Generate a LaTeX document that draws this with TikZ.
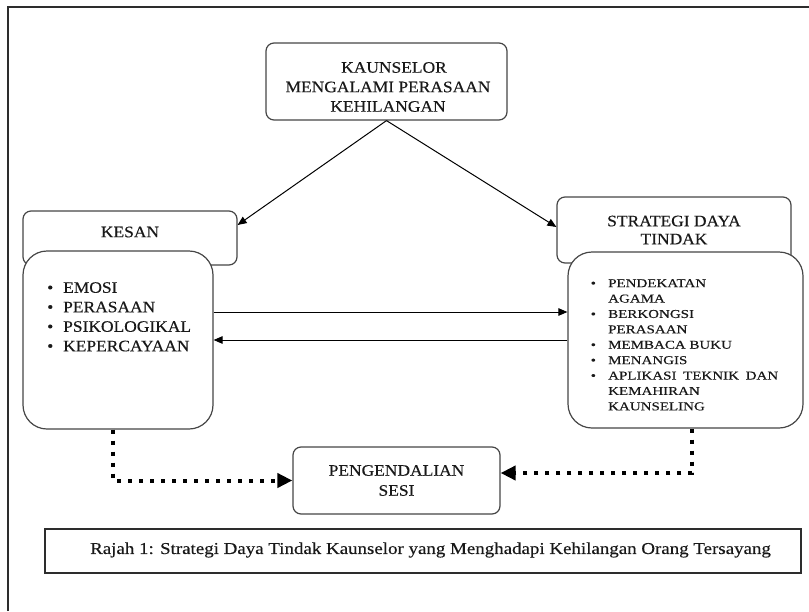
\documentclass[tikz,border=0pt]{standalone}
\usepackage{fontspec}
\setmainfont{Liberation Serif}[FakeStretch=1.09,FakeBold=0.3]
\newfontfamily\smallwide{Liberation Serif}[FakeStretch=1.25,FakeBold=0.4]
\newfontfamily\capfont{Liberation Serif}[FakeStretch=1.14,FakeBold=0.3]
\usetikzlibrary{arrows.meta}
\definecolor{boxgray}{RGB}{70,70,70}
\definecolor{framegray}{RGB}{45,45,45}
\definecolor{textgray}{RGB}{25,25,25}
\begin{document}
\begin{tikzpicture}[x=1pt,y=-1pt,
  box/.style={draw=boxgray, line width=1.2pt, rounded corners=8pt, fill=white, inner sep=0pt},
  listbox/.style={box, rounded corners=24pt},
  arr/.style={line width=1pt, -{Triangle[length=9pt,width=7.5pt]}},
  dotarr/.style={line width=4pt, dash pattern=on 4pt off 7pt, -{Triangle[length=15pt,width=14pt]}},
  txt/.style={inner sep=0pt, text=textgray, font=\fontsize{16}{19.5}\selectfont},
  smalltxt/.style={inner sep=0pt, text=textgray, font=\smallwide\fontsize{12}{15.4}\selectfont}]
\useasboundingbox (0,0) rectangle (809,611);
\draw[line width=1.5pt, draw=framegray] (8,611) -- (8,7) -- (809,7);
% top box
\node[box, minimum width=241pt, minimum height=77pt] (top) at (386.5,81.5) {};
\node[txt, align=center] (toptext) at (388,87) {\hspace*{12pt}KAUNSELOR\\MENGALAMI PERASAAN\\KEHILANGAN};
% header boxes
\node[box, minimum width=214pt, minimum height=54pt] (kesan) at (130,238) {};
\node[txt] (kesantext) at (130,232) {KESAN};
\node[box, txt, align=center, minimum width=234pt, minimum height=66pt, font=\fontsize{16}{18}\selectfont] (strat) at (674,230) {STRATEGI DAYA\\TINDAK};
% list boxes
\node[listbox, minimum width=190pt, minimum height=178pt] (kesanlist) at (118,340) {};
\node[listbox, minimum width=235pt, minimum height=176pt] (stratlist) at (685.5,340) {};
\node[txt, anchor=north west, align=left] (kesanitems) at (47,282)
  {\makebox[16pt][l]{\textbullet}EMOSI\\
   \makebox[16pt][l]{\textbullet}PERASAAN\\
   \makebox[16pt][l]{\textbullet}PSIKOLOGIKAL\\
   \makebox[16pt][l]{\textbullet}KEPERCAYAAN};
\node[smalltxt, anchor=north west, align=left] (stratitems) at (590.5,279)
  {\makebox[17.5pt][l]{\textbullet}PENDEKATAN\\
   \hspace*{17.5pt}AGAMA\\
   \makebox[17.5pt][l]{\textbullet}BERKONGSI\\
   \hspace*{17.5pt}PERASAAN\\
   \makebox[17.5pt][l]{\textbullet}MEMBACA BUKU\\
   \makebox[17.5pt][l]{\textbullet}MENANGIS\\
   \makebox[17.5pt][l]{\textbullet}\makebox[170pt][s]{APLIKASI TEKNIK DAN}\\
   \hspace*{17.5pt}KEMAHIRAN\\
   \hspace*{17.5pt}KAUNSELING};
% bottom box
\node[box, txt, align=center, minimum width=207pt, minimum height=67pt, font=\fontsize{16}{20}\selectfont] (sesi) at (396.5,480.5) {PENGENDALIAN\\SESI};
% caption
\node[draw=framegray, line width=1.1pt, minimum width=756pt, minimum height=44pt, inner sep=0pt] (capbox) at (423,551) {};
\node[txt, anchor=west, font=\capfont\fontsize{16.6}{19}\selectfont] (captext) at (90,550) {Rajah 1: Strategi Daya Tindak Kaunselor yang Menghadapi Kehilangan Orang Tersayang};
% connectors
\draw[arr] (top.south) -- ([yshift=13pt]kesan.east);
\draw[arr] (top.south) -- ([yshift=3pt]strat.west);
\draw[arr] ([yshift=28pt]kesanlist.east) -- ([yshift=28pt]stratlist.west);
\draw[arr] (stratlist.west) -- (kesanlist.east);
\draw[dotarr] ([xshift=-5pt]kesanlist.south) |- (sesi.west);
\draw[dotarr] ([xshift=6.5pt]stratlist.south) |- ([yshift=7.5pt]sesi.east);
\end{tikzpicture}
\end{document}
